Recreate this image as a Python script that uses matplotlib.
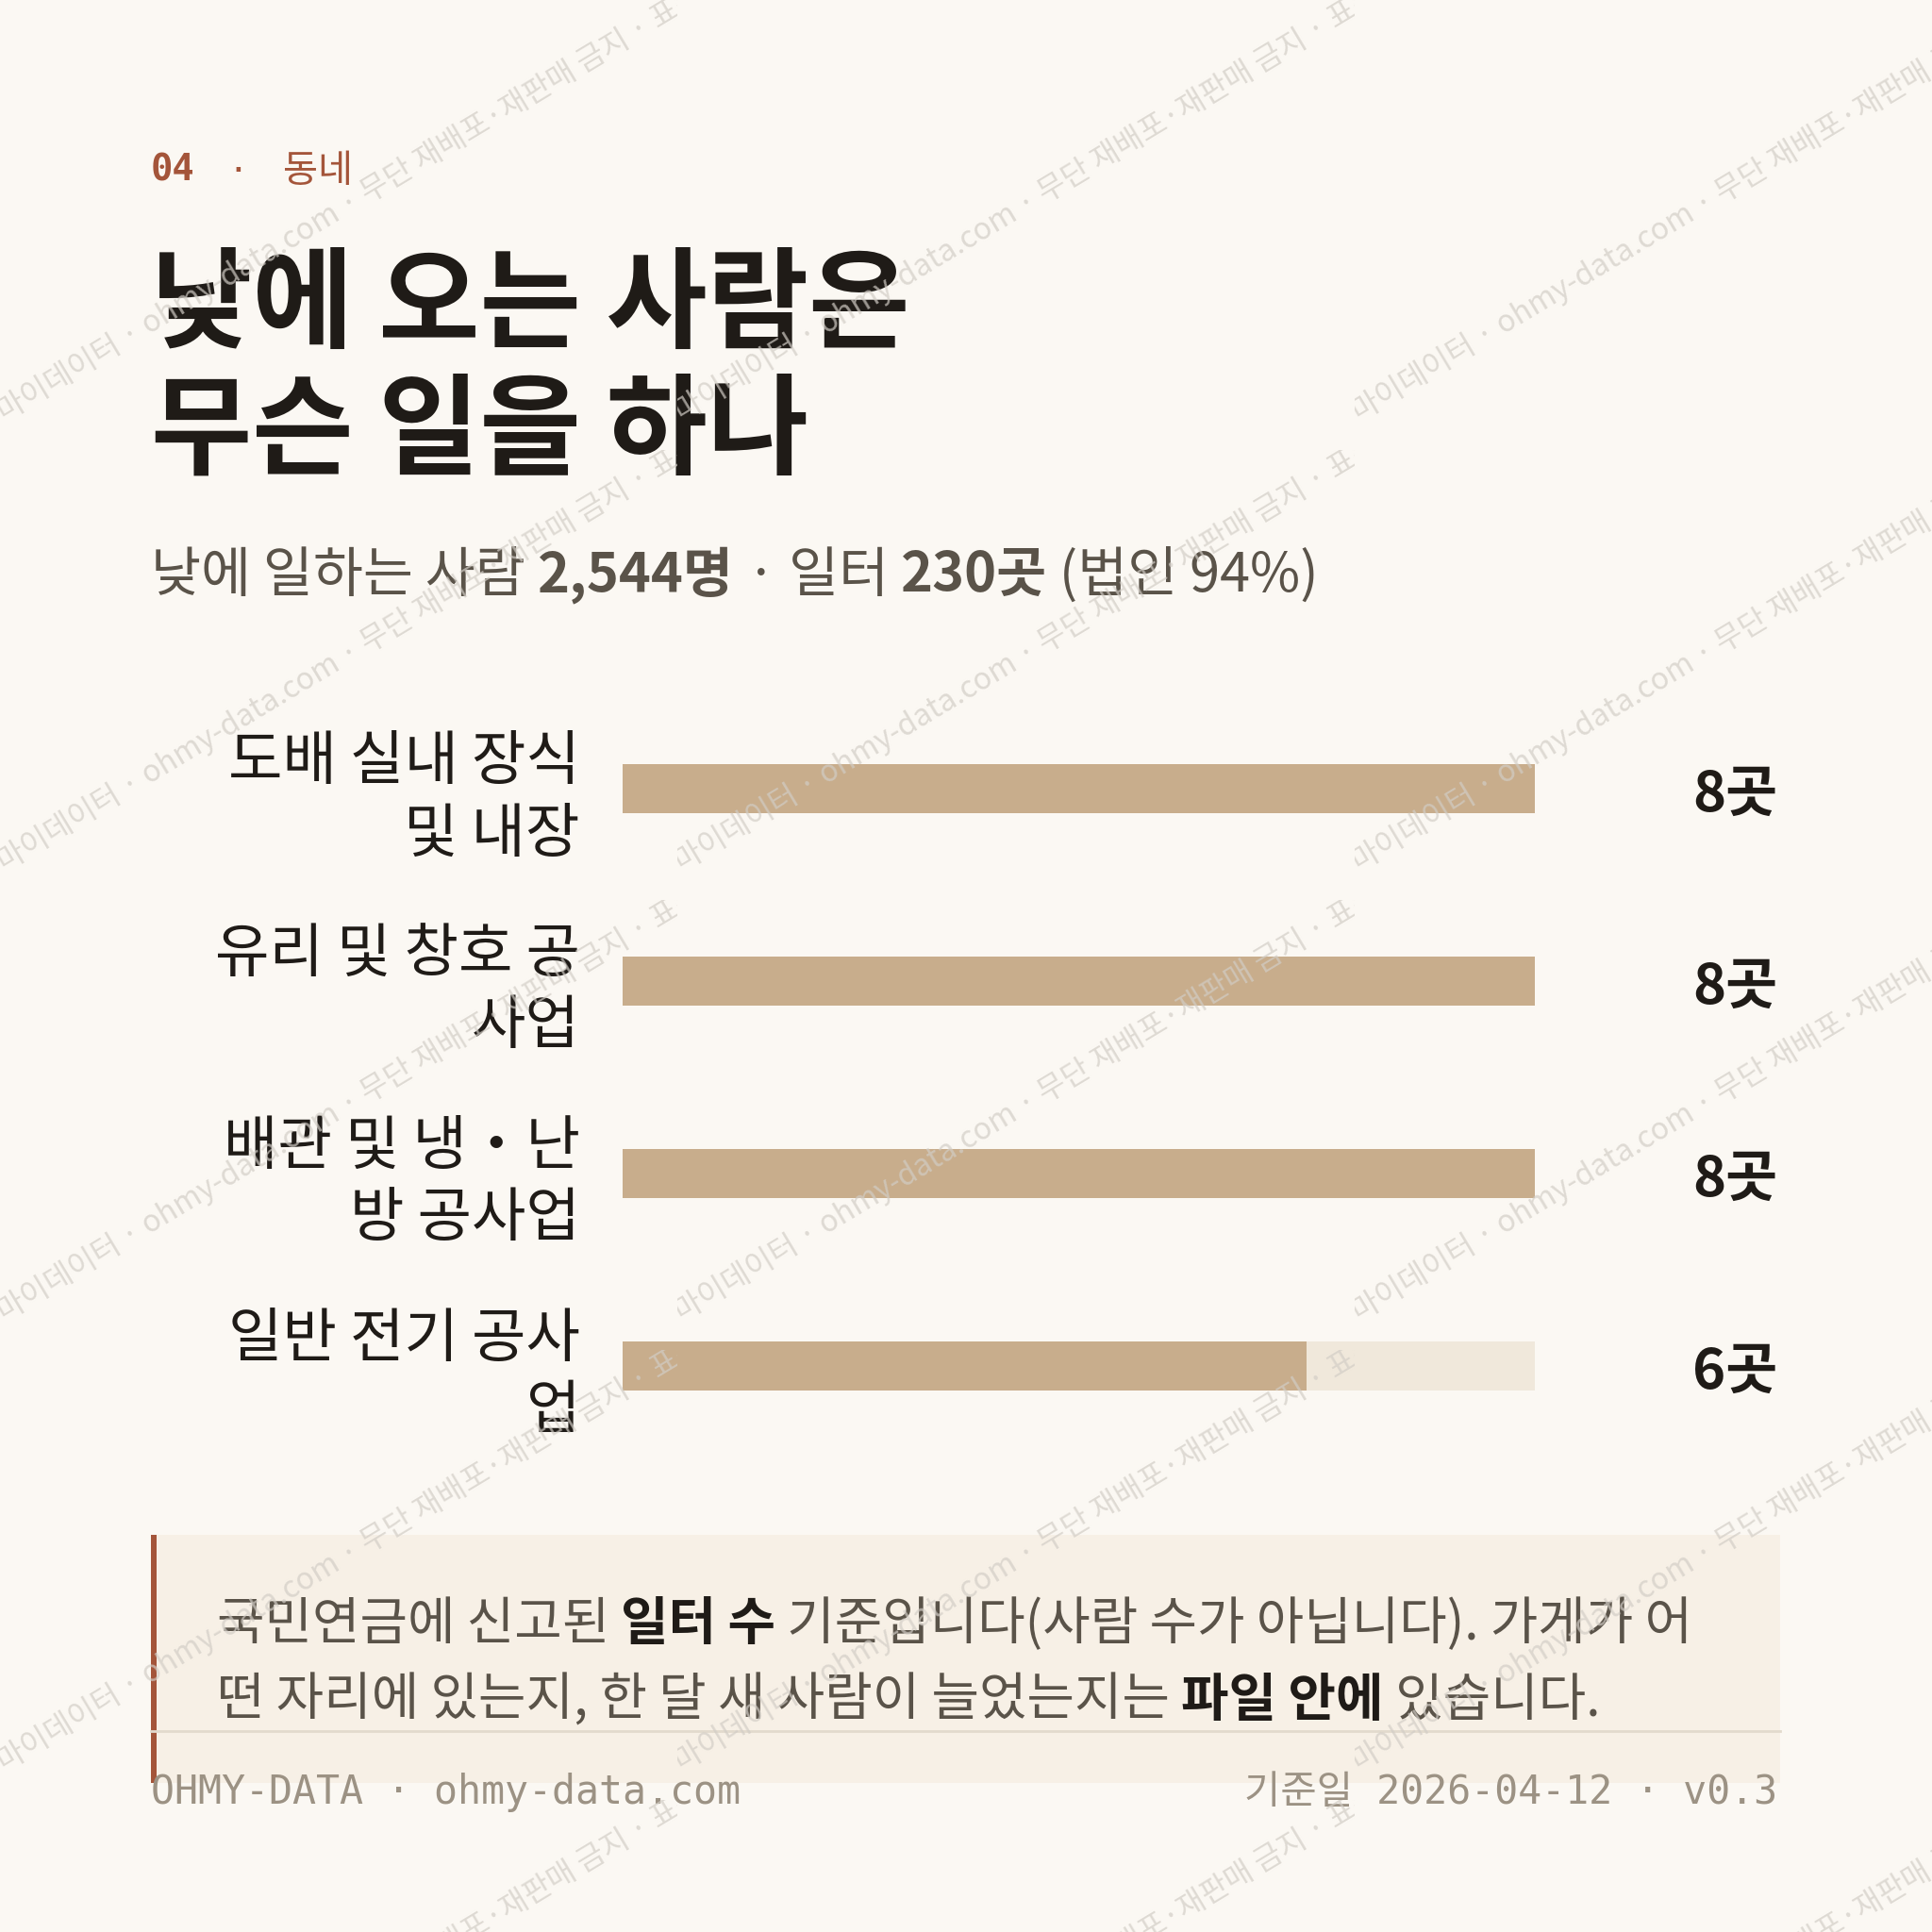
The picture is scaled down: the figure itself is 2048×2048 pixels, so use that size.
import matplotlib
matplotlib.use('Agg')  # 화면 없이 렌더링
import matplotlib.pyplot as plt
from matplotlib.patches import Rectangle
from matplotlib.transforms import Bbox, TransformedBbox, blended_transform_factory

plt.rcParams['font.family'] = ['Noto Sans CJK KR', 'DejaVu Sans']

# 데이터
categories = ['도배 실내 장식\n및 내장', '유리 및 창호 공\n사업', '배관 및 냉・난\n방 공사업', '일반 전기 공사\n업']
counts = [8, 8, 8, 6]
max_count = 8
total_people = 2544
total_sites = 230
corp_share = 94

section_no = '04'
section_name = '동네'
title_lines = ['낮에 오는 사람은', '무슨 일을 하나']
note_lines = [
    [('국민연금에 신고된 ', 'n'), ('일터 수', 'b'), (' 기준입니다(사람 수가 아닙니다). 가게가 어', 'n')],
    [('떤 자리에 있는지, 한 달 새 사람이 늘었는지는 ', 'n'), ('파일 안에', 'b'), (' 있습니다.', 'n')],
]
footer_left = 'OHMY-DATA · ohmy-data.com'
footer_right = '기준일 2026-04-12 · v0.3'
watermark = '마이데이터 · ohmy-data.com · 무단 재배포·재판매 금지 · 표본 · 마이데이터'
watermark_pre = '재판매 금지 · 표본 · '

# 색상
BG = '#FBF8F3'
RUST = '#A4553A'
INK = '#1F1B17'
SUB = '#5A5349'
BAR = '#C8AD8C'
TRACK = '#F0E8DB'
NOTE_BG = '#F7F0E6'
LINE = '#E2DACD'
FOOT = '#9C9284'
MONO = ['DejaVu Sans Mono', 'Noto Sans CJK KR']

W = 2048
fig = plt.figure(figsize=(20.48, 20.48), dpi=100, facecolor=BG)
renderer = fig.canvas.get_renderer()


def fx(x):
    return x / W


def fy(y):
    return 1 - y / W


def text_width(s, **kw):
    # 앞뒤 공백까지 재기 위해 막대 문자로 감싸서 측정
    t1 = fig.text(0, 0, '|' + s + '|', **kw)
    t2 = fig.text(0, 0, '||', **kw)
    w = t1.get_window_extent(renderer).width - t2.get_window_extent(renderer).width
    t1.remove()
    t2.remove()
    return w


def draw_runs(x, y, runs, size, colors):
    for s, style in runs:
        kw = dict(fontsize=size, fontweight='bold' if style == 'b' else 'normal')
        fig.text(fx(x), fy(y), s, color=colors[style], ha='left', va='baseline', **kw)
        x += text_width(s, **kw)


# 머리글
fig.text(fx(160), fy(192), section_no, family=MONO, fontweight='bold', fontsize=28,
         color=RUST, va='baseline')
fig.text(fx(252), fy(192), '·', family=MONO, fontsize=26, color=RUST, va='baseline', ha='center')
fig.text(fx(300), fy(193), section_name, fontsize=29, color=RUST, va='baseline')

# 제목
fig.text(fx(160), fy(360), title_lines[0], fontsize=84, fontweight='bold', color=INK, va='baseline')
fig.text(fx(160), fy(494), title_lines[1], fontsize=84, fontweight='bold', color=INK, va='baseline')

# 부제
sub_runs = [('낮에 일하는 사람 ', 'n'), (f'{total_people:,}명', 'b'), (' · 일터 ', 'n'),
            (f'{total_sites}곳', 'b'), (f' (법인 {corp_share}%)', 'n')]
draw_runs(160, 627, sub_runs, 41.5, {'n': SUB, 'b': SUB})

# 막대
n = len(categories)
ax = fig.add_axes([fx(660), fy(1550), (1627 - 660) / W, (1550 - 734) / W])
ax.set_xlim(0, max_count)
ax.set_ylim(n - 0.5, -0.5)
ax.barh(range(n), [max_count] * n, height=0.255, color=TRACK, zorder=1)
ax.barh(range(n), counts, height=0.255, color=BAR, zorder=2)
ax.axis('off')

trans = blended_transform_factory(fig.transFigure, ax.transData)
for i, (lab, c) in enumerate(zip(categories, counts)):
    ax.text(fx(615), i + 0.05, lab, transform=trans, ha='right', va='center', fontsize=45,
            color=INK, linespacing=1.25, clip_on=False)
    ax.text(fx(1884), i + 0.035, f'{c}곳', transform=trans, ha='right', va='center', fontsize=43,
            fontweight='bold', color=INK, clip_on=False)

# 메모 상자
fig.patches.append(Rectangle((fx(160), fy(1890)), (1887 - 160) / W, (1890 - 1627) / W,
                             transform=fig.transFigure, facecolor=NOTE_BG, edgecolor='none', zorder=0))
fig.patches.append(Rectangle((fx(160), fy(1890)), 6 / W, (1890 - 1627) / W,
                             transform=fig.transFigure, facecolor=RUST, edgecolor='none', zorder=0.5))
draw_runs(230, 1738, note_lines[0], 39.5, {'n': SUB, 'b': INK})
draw_runs(230, 1819, note_lines[1], 39.5, {'n': SUB, 'b': INK})

# 구분선
fig.lines.append(plt.Line2D([fx(160), fx(1887)], [fy(1835), fy(1835)], transform=fig.transFigure,
                            color=LINE, linewidth=2, zorder=0.6))

# 바닥글
fig.text(fx(160), fy(1912), footer_left, family=MONO, fontsize=30, color=FOOT, va='baseline')
fig.text(fx(1884), fy(1912), footer_right, family=MONO, fontsize=30, color=FOOT, va='baseline', ha='right')

# 워터마크 (타일마다 잘라서 반복)
TW, TH = 718, 477
for j in range(-1, 6):
    for i in range(0, 3):
        left, top = i * TW, j * TH
        clip = TransformedBbox(Bbox.from_extents(fx(left), fy(top + TH), fx(left + TW), fy(top)),
                               fig.transFigure)
        for s, ha in [(watermark, 'left'), (watermark_pre, 'right')]:
            t = fig.text(fx(left + 4), fy(top + 447), s, fontsize=23, color='#D2CDC6', alpha=0.7,
                         rotation=31, rotation_mode='anchor', ha=ha, va='baseline', zorder=10)
            t.set_clip_on(True)
            t.set_clip_box(clip)

fig.savefig('out.png', dpi=100, facecolor=BG)
